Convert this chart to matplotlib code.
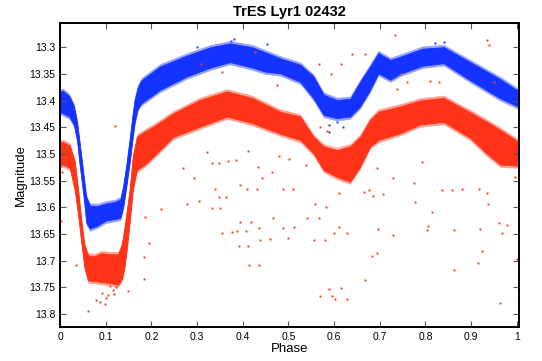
import numpy as np
import matplotlib
matplotlib.use("Agg")
import matplotlib.pyplot as plt

plt.rcParams['font.family'] = ['Liberation Sans', 'DejaVu Sans']

# band edges (phase, bright edge, faint edge)
blue_phase = [0.0, 0.006, 0.020, 0.030, 0.037, 0.042, 0.047, 0.052, 0.057, 0.065,
              0.080, 0.100, 0.120, 0.132, 0.138, 0.145, 0.152, 0.158, 0.163, 0.170,
              0.178, 0.219, 0.277, 0.330, 0.372, 0.420, 0.450, 0.482, 0.526, 0.555,
              0.577, 0.606, 0.635, 0.657, 0.679, 0.697, 0.723, 0.745, 0.793, 0.840,
              0.898, 0.964, 1.005]
blue_top = [13.383, 13.382, 13.392, 13.410, 13.440, 13.475, 13.510, 13.545, 13.580, 13.597,
            13.598, 13.593, 13.590, 13.585, 13.560, 13.520, 13.474, 13.430, 13.399, 13.375,
            13.362, 13.336, 13.316, 13.300, 13.293, 13.300, 13.310, 13.321, 13.333, 13.355,
            13.389, 13.399, 13.397, 13.365, 13.336, 13.311, 13.324, 13.318, 13.303, 13.300,
            13.328, 13.360, 13.383]
blue_bot = [13.422, 13.424, 13.430, 13.445, 13.475, 13.515, 13.550, 13.585, 13.628, 13.640,
            13.635, 13.625, 13.622, 13.620, 13.600, 13.560, 13.517, 13.475, 13.442, 13.415,
            13.405, 13.380, 13.355, 13.338, 13.328, 13.338, 13.346, 13.349, 13.365, 13.396,
            13.427, 13.433, 13.430, 13.411, 13.380, 13.349, 13.361, 13.350, 13.335, 13.330,
            13.362, 13.396, 13.412]

red_phase = [0.0, 0.006, 0.021, 0.032, 0.039, 0.046, 0.053, 0.061, 0.075, 0.090,
             0.110, 0.127, 0.135, 0.141, 0.147, 0.152, 0.159, 0.168, 0.185, 0.204,
             0.248, 0.306, 0.365, 0.420, 0.482, 0.526, 0.555, 0.577, 0.606, 0.635,
             0.657, 0.679, 0.697, 0.745, 0.788, 0.840, 0.898, 0.935, 0.964, 1.005]
red_top = [13.478, 13.478, 13.484, 13.515, 13.565, 13.622, 13.670, 13.690, 13.692, 13.686,
           13.688, 13.688, 13.670, 13.637, 13.600, 13.568, 13.505, 13.468, 13.458, 13.449,
           13.424, 13.399, 13.383, 13.395, 13.421, 13.430, 13.468, 13.486, 13.493, 13.486,
           13.468, 13.436, 13.421, 13.411, 13.400, 13.395, 13.422, 13.440, 13.455, 13.478]
red_bot = [13.522, 13.520, 13.526, 13.568, 13.612, 13.664, 13.712, 13.737, 13.738, 13.740,
           13.742, 13.745, 13.735, 13.712, 13.670, 13.630, 13.568, 13.530, 13.520, 13.505,
           13.468, 13.449, 13.430, 13.442, 13.462, 13.474, 13.499, 13.530, 13.543, 13.552,
           13.524, 13.486, 13.474, 13.461, 13.445, 13.440, 13.470, 13.500, 13.520, 13.522]

# scattered points away from the bands
red_out_phase = [0.12, 0.322, 0.333, 0.347, 0.367, 0.412, 0.268, 0.294, 0.339, 0.409,
                 0.488, 0.221, 0.303, 0.277, 0.347, 0.332, 0.186, 0.394, 0.387, 0.354,
                 0.467, 0.436, 0.489, 0.540, 0.559, 0.583, 0.599, 0.676, 0.665, 0.708,
                 0.730, 0.697, 0.730, 0.793, 0.774, 0.778, 0.805, 0.804, 0.814, 0.836,
                 0.858, 0.880, 0.918, 0.935, 0.937, 0.962, 0.968, 0.979, 0.862, 0.997,
                 0.920, 0.610, 0.004, 0.002, 0.034, 0.061, 0.078, 0.087, 0.098, 0.149,
                 0.184, 0.184, 0.195, 0.392, 0.414, 0.438, 0.555, 0.570, 0.589, 0.601,
                 0.667, 0.684, 0.695, 0.862, 0.915, 0.923, 0.963, 1.0, 0.734, 0.934,
                 0.940, 0.640, 0.568, 0.744, 0.760, 0.811, 0.829, 0.738, 0.354, 0.427,
                 0.308, 0.474, 0.950, 0.615, 0.593, 0.668, 0.569, 0.584, 0.611, 0.567,
                 0.628, 0.580, 0.615, 0.595, 0.628, 0.436, 0.412, 0.460, 0.499, 0.513,
                 0.418, 0.377, 0.407, 0.363, 0.393, 0.350, 0.431, 0.442, 0.464, 0.510,
                 0.502, 0.480, 0.434, 0.385, 0.538, 0.685, 0.695, 0.092, 0.105, 0.115,
                 0.122, 0.100, 0.110, 0.118]
red_out_mag = [13.448, 13.496, 13.517, 13.517, 13.513, 13.495, 13.526, 13.546, 13.565, 13.565,
               13.565, 13.603, 13.588, 13.593, 13.580, 13.602, 13.619, 13.627, 13.644, 13.648,
               13.620, 13.638, 13.638, 13.620, 13.593, 13.599, 13.649, 13.568, 13.571, 13.575,
               13.546, 13.640, 13.652, 13.515, 13.555, 13.590, 13.636, 13.642, 13.608, 13.568,
               13.568, 13.565, 13.566, 13.574, 13.593, 13.629, 13.649, 13.633, 13.643, 13.543,
               13.640, 13.637, 13.533, 13.626, 13.708, 13.795, 13.774, 13.778, 13.781, 13.757,
               13.693, 13.735, 13.667, 13.673, 13.708, 13.661, 13.661, 13.767, 13.754, 13.772,
               13.737, 13.691, 13.685, 13.717, 13.705, 13.682, 13.779, 13.697, 13.278, 13.286,
               13.296, 13.313, 13.331, 13.350, 13.365, 13.363, 13.365, 13.378, 13.346, 13.310,
               13.331, 13.371, 13.365, 13.331, 13.350, 13.313, 13.450, 13.458, 13.574, 13.621,
               13.648, 13.661, 13.752, 13.766, 13.772, 13.709, 13.673, 13.660, 13.658, 13.637,
               13.627, 13.646, 13.645, 13.581, 13.558, 13.602, 13.565, 13.545, 13.534, 13.565,
               13.510, 13.504, 13.525, 13.511, 13.520, 13.578, 13.527, 13.760, 13.765, 13.755,
               13.750, 13.770, 13.748, 13.762]
blue_out_phase = [0.588, 0.606, 0.620, 0.588, 0.380, 0.375, 0.452, 0.300, 0.840, 0.820]
blue_out_mag = [13.446, 13.440, 13.450, 13.459, 13.285, 13.288, 13.295, 13.300, 13.290, 13.292]

x_ticks = [0, 0.1, 0.2, 0.3, 0.4, 0.5, 0.6, 0.7, 0.8, 0.9, 1.0]
x_labels = ['0', '0.1', '0.2', '0.3', '0.4', '0.5', '0.6', '0.7', '0.8', '0.9', '1']
y_ticks = [13.3, 13.35, 13.4, 13.45, 13.5, 13.55, 13.6, 13.65, 13.7, 13.75, 13.8]
y_labels = ['13.3', '13.35', '13.4', '13.45', '13.5', '13.55', '13.6', '13.65', '13.7', '13.75', '13.8']

blue = '#1533ff'
red = '#ff3318'
fuzz = 0.005  # soft rim around each band, where the dots thin out

fig = plt.figure(figsize=(5.42, 3.61), dpi=100)
ax = fig.add_axes([0.111, 0.094, 0.847, 0.842])

for ph, top, bot, c in [(red_phase, red_top, red_bot, red),
                        (blue_phase, blue_top, blue_bot, blue)]:
    top = np.array(top)
    bot = np.array(bot)
    ax.fill_between(ph, top - fuzz, bot + fuzz, color=c, alpha=0.45, lw=0)
    ax.fill_between(ph, top, bot, color=c, lw=0.6, ec=c)

ax.plot(red_out_phase, red_out_mag, 's', color=red, ms=1.4, mew=0)
ax.plot(blue_out_phase, blue_out_mag, 's', color=blue, ms=1.4, mew=0)

ax.set_xlim(0, 1.0055)
ax.set_ylim(13.8244, 13.255)
ax.set_xticks(x_ticks)
ax.set_xticklabels(x_labels)
ax.set_yticks(y_ticks)
ax.set_yticklabels(y_labels)
ax.tick_params(direction='in', length=4, width=0.8, labelsize=7.5,
               top=True, right=True, colors='#555555', labelcolor='black')
for s in ax.spines.values():
    s.set_linewidth(1.4)

ax.set_title('TrES Lyr1 02432', fontsize=10.5, fontweight='bold', pad=5)
ax.set_xlabel('Phase', fontsize=9.5, labelpad=1)
ax.set_ylabel('Magnitude', fontsize=9.5, labelpad=2)

fig.savefig('out.png', dpi=100)
